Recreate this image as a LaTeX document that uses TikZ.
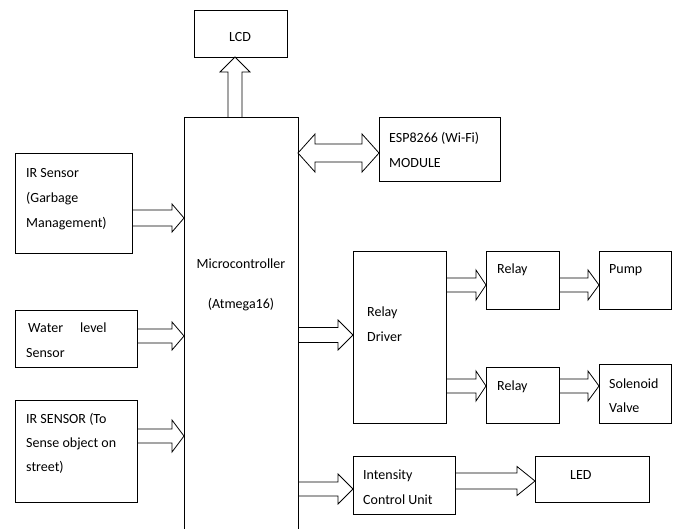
\documentclass[tikz,border=0pt]{standalone}
\usepackage{fontspec}
\setmainfont{Carlito}
\usetikzlibrary{calc}
\tikzset{
 box/.style={draw, line width=0.8pt, inner sep=0pt, outer sep=0pt, rectangle},
 txt/.style={anchor=base west, inner sep=0pt, font=\fontsize{14}{17}\selectfont},
 ctxt/.style={anchor=base, inner sep=0pt, font=\fontsize{14}{17}\selectfont},
 fat/.style={draw, line width=0.8pt, line join=miter}
}
% horizontal block arrow: start, tip, shaft half width, head half width, head length
\newcommand{\hfat}[5]{%
 \path[fat] let \p1=#1, \p2=#2 in
 (\x1,\y2+#3pt) -- (\x2-#5pt,\y2+#3pt) -- (\x2-#5pt,\y2+#4pt) -- (\x2,\y2)
 -- (\x2-#5pt,\y2-#4pt) -- (\x2-#5pt,\y2-#3pt) -- (\x1,\y2-#3pt);}
% vertical (upward) block arrow
\newcommand{\vfat}[5]{%
 \path[fat] let \p1=#1, \p2=#2 in
 (\x2+#3pt,\y1) -- (\x2+#3pt,\y2-#5pt) -- (\x2+#4pt,\y2-#5pt) -- (\x2,\y2)
 -- (\x2-#4pt,\y2-#5pt) -- (\x2-#3pt,\y2-#5pt) -- (\x2-#3pt,\y1);}
% double-headed horizontal block arrow
\newcommand{\dfat}[5]{%
 \path[fat] let \p1=#1, \p2=#2 in
 (\x1,\y1) -- (\x1+#5pt,\y1+#4pt) -- (\x1+#5pt,\y1+#3pt) -- (\x2-#5pt,\y1+#3pt)
 -- (\x2-#5pt,\y1+#4pt) -- (\x2,\y1) -- (\x2-#5pt,\y1-#4pt) -- (\x2-#5pt,\y1-#3pt)
 -- (\x1+#5pt,\y1-#3pt) -- (\x1+#5pt,\y1-#4pt) -- cycle;}
\begin{document}
\begin{tikzpicture}[x=1pt,y=-1pt]
\useasboundingbox (0,0) rectangle (676,528);
\fill[white] (0,0) rectangle (676,528);
\clip (0,0) rectangle (676,528);

% boxes
\node[box, minimum width=93pt,  minimum height=47pt]  (lcd)  at (240.5,33.5) {};
\node[box, minimum width=114pt, minimum height=423pt] (mcu)  at (241,328.5) {};
\node[box, minimum width=121pt, minimum height=64pt]  (esp)  at (439.5,149) {};
\node[box, minimum width=117pt, minimum height=100pt] (ir1)  at (73.5,203) {};
\node[box, minimum width=122pt, minimum height=57pt]  (wl)   at (76,338.5) {};
\node[box, minimum width=122pt, minimum height=102pt] (ir2)  at (76,451) {};
\node[box, minimum width=93pt,  minimum height=172pt] (drv)  at (399.5,337) {};
\node[box, minimum width=73pt,  minimum height=58pt]  (r1)   at (522.5,280) {};
\node[box, minimum width=72pt,  minimum height=58pt]  (pump) at (635,280) {};
\node[box, minimum width=73pt,  minimum height=56pt]  (r2)   at (522.5,395) {};
\node[box, minimum width=72pt,  minimum height=59pt]  (sol)  at (635,393.5) {};
\node[box, minimum width=102pt, minimum height=58pt]  (icu)  at (404,485) {};
\node[box, minimum width=114pt, minimum height=46pt]  (led)  at (592,479) {};

% arrow levels
\coordinate (ylcd) at (235,0);
\coordinate (yesp) at (0,153);
\coordinate (y1) at (0,218);
\coordinate (y2) at (0,336);
\coordinate (y3) at (0,436);
\coordinate (y4) at (0,335);
\coordinate (y5) at (0,285);
\coordinate (y6) at (0,386);
\coordinate (y7) at (0,489);
\coordinate (y8) at (0,481);

% connectors
\vfat{(mcu.north -| ylcd)}{(lcd.south -| ylcd)}{7}{15}{15}
\dfat{(mcu.east |- yesp)}{(esp.west |- yesp)}{9}{19}{17}
\hfat{(ir1.east |- y1)}{(mcu.west |- y1)}{8}{14}{12}
\hfat{(wl.east |- y2)}{(mcu.west |- y2)}{7}{14}{12}
\hfat{(ir2.east |- y3)}{(mcu.west |- y3)}{7}{16}{12}
\hfat{(mcu.east |- y4)}{(drv.west |- y4)}{7.5}{15}{15}
\hfat{(drv.east |- y5)}{(r1.west |- y5)}{7}{15}{10}
\hfat{(r1.east |- y5)}{(pump.west |- y5)}{7}{15}{11}
\hfat{(drv.east |- y6)}{(r2.west |- y6)}{7}{15}{10}
\hfat{(r2.east |- y6)}{(sol.west |- y6)}{7}{15}{11}
\hfat{(mcu.east |- y7)}{(icu.west |- y7)}{7}{15}{15}
\hfat{(icu.east |- y8)}{(led.west |- y8)}{8}{14.5}{18}

% texts
\node[ctxt] (tlcd) at (240,41) {LCD};
\node[ctxt] (tmc1) at (241,268) {Microcontroller};
\node[ctxt] (tmc2) at (241,308) {(Atmega16)};
\node[txt] (tesp1) at (389,142) {ESP8266 (Wi-Fi)};
\node[txt] (tesp2) at (389,167) {MODULE};
\node[txt] (tir1a) at (26,177) {IR Sensor};
\node[txt] (tir1b) at (26,202) {(Garbage};
\node[txt] (tir1c) at (26,227) {Management)};
\node[txt] (twl1) at (28,332) {Water\hspace{17pt}level};
\node[txt] (twl2) at (26,357) {Sensor};
\node[txt] (tir2a) at (26,423) {IR SENSOR (To};
\node[txt] (tir2b) at (26,447) {Sense object on};
\node[txt] (tir2c) at (26,471) {street)};
\node[txt] (tdrv1) at (367,316) {Relay};
\node[txt] (tdrv2) at (367,341) {Driver};
\node[txt] (tr1) at (497,273) {Relay};
\node[txt] (tpump) at (609,273) {Pump};
\node[txt] (tr2) at (497,390) {Relay};
\node[txt] (tsol1) at (609,388) {Solenoid};
\node[txt] (tsol2) at (609,412) {Valve};
\node[txt] (ticu1) at (363,479) {Intensity};
\node[txt] (ticu2) at (363,504) {Control Unit};
\node[txt] (tled) at (570,479) {LED};
\end{tikzpicture}
\end{document}
